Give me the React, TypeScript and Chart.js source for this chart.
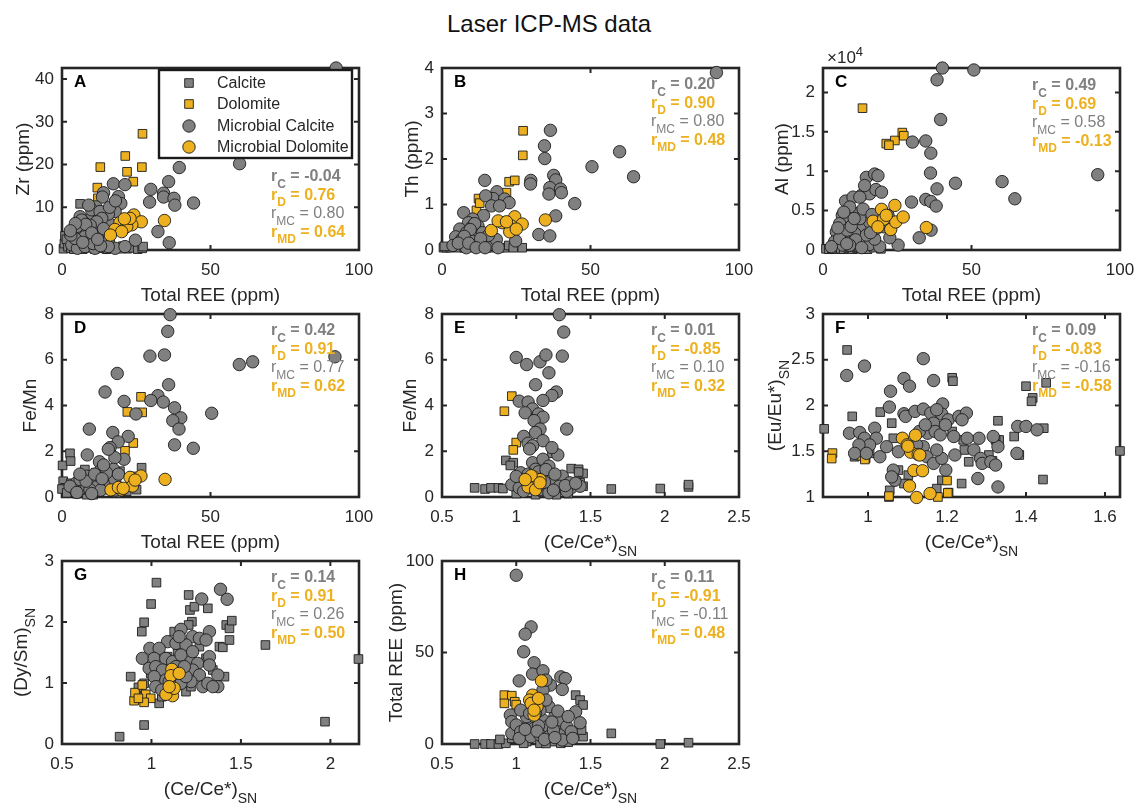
import { useEffect, useRef } from "react";
import { Chart, registerables } from "chart.js";
Chart.register(...registerables);

type P = [number, number];

// ---------------- DATA ----------------
const seriesNames = ["Calcite", "Dolomite", "Microbial Calcite", "Microbial Dolomite"];

// Panel A: Total REE vs Zr
const calciteA: P[] = [[6.1,10.8],[0.5,0.3],[0.8,1.5],[1,3.3],[2,0.8],[1.5,2.5],[3,0.4],[4,1.8],[5,0.3],[7,0.2],[9,0.5],[11,0.2],[13,0.4],[15,0.2],[17,0.6],[19,0.3],[20.5,0.9],[22,0.3],[24,0.5],[25.5,0.2],[27,0.4],[2.5,4],[12,1.0],[16,1.3],[8,1.2],[4,0.2],[27.3,0.8]];
const dolomiteA: P[] = [[27.1,27.2],[12.9,19.4],[21.3,22.0],[21.9,18.3],[26.9,19.4],[24.0,16.0],[11.9,14.6],[12.1,12.1]];
const micCalciteA: P[] = [[92.3,42.6],[59.8,20.2],[39.5,19.3],[35.9,16.0],[29.9,14.2],[34.2,13.3],[29.5,11.2],[34.2,12.4],[37.7,12.1],[38.0,10.5],[44.3,11.0],[32.3,4.3],[36.1,1.7],[24.7,2.3],[17.3,15.5],[21.2,15.3],[14.0,13.4],[13.6,12.4],[19.0,12.5],[19.8,10.9],[17.9,9.0],[11.4,10.1],[10.9,8.2],[8.9,7.0],[7.2,6.6],[8.5,4.7],[6.6,3.9],[11.7,5.5],[12.3,3.9],[8.3,2.3],[4.4,2.4],[3.3,1.2],[5.2,0.4],[7.8,0.8],[11.1,0.4],[15.1,0.6],[15.6,2.3],[21.3,7.0],[20.9,5.1],[15.6,6.4],[15.6,8.4],[17.9,0.4],[6.1,4.7],[9.4,3.1],[6.1,7.8],[12.8,7.8],[10.0,9.4],[12.8,9.0],[13.4,7.4],[6.6,7.0],[11.7,6.6],[5.5,4.7],[7.7,3.1],[4.4,2.7],[15.6,0.8],[21.2,0.8],[9.5,5.8],[10.5,1.5],[13,1.0],[7,1.8],[5,5.5],[8,6],[10,4],[14,5],[3,3.5],[9,10.5],[12,2.5],[16,10],[18,11.5],[4.5,6.2],[2.8,4.5]];
const micDolomiteA: P[] = [[24.2,8.2],[26.7,6.6],[19.5,6.4],[23.5,5.9],[21.8,5.5],[17.8,4.8],[20.1,4.3],[16.3,3.5],[34.5,6.9],[22.9,7.4],[21.0,7.3]];

// Panel B: Total REE vs Th
const calciteB: P[] = [[0.5,0.05],[1.5,0.05],[3,0.05],[4.5,0.1],[6,0.05],[7.5,0.05],[9,0.08],[10.5,0.05],[12,0.05],[13.5,0.1],[15,0.05],[16.5,0.05],[18,0.08],[19.5,0.05],[21,0.05],[22.5,0.1],[24,0.05],[27,0.05],[5,0.2],[11,0.25],[14,0.15],[0.8,0.08]];
const dolomiteB: P[] = [[27.3,2.62],[27.2,2.08],[22.6,1.5],[24.5,1.53],[12.3,1.13],[11.6,0.87],[21.7,1.26],[12.7,1.03]];
const micCalciteB: P[] = [[92.4,3.9],[59.8,2.16],[50.5,1.83],[64.5,1.61],[36.5,2.63],[34.5,2.29],[34.6,2.01],[29.9,1.53],[29.8,1.45],[37.6,1.64],[38.3,1.54],[36.3,1.37],[36.0,1.23],[39.9,1.34],[40.2,1.26],[44.7,1.02],[38.3,0.75],[32.6,0.34],[36.3,0.31],[14.4,1.53],[18.5,1.28],[17.2,1.13],[14.7,1.19],[21.1,1.12],[22.6,1.04],[16.7,0.97],[19.4,0.97],[7.3,0.82],[14.0,0.76],[10.4,0.68],[8.9,0.6],[12.1,0.53],[6.0,0.46],[4.6,0.29],[8.2,0.38],[11.6,0.38],[13.7,0.38],[6.6,0.23],[10.0,0.2],[12.8,0.12],[16.1,0.12],[18.3,0.23],[24.8,0.2],[15.6,0.32],[3.7,0.1],[8.2,0.05],[18.9,0.05],[10,0.5],[11,0.58],[9.5,0.45],[7.5,0.3],[5.5,0.15],[13,0.25],[9,0.15],[11.5,0.05],[14.5,0.05]];
const micDolomiteB: P[] = [[16.6,0.43],[20.3,0.6],[24.5,0.73],[27.0,0.57],[34.8,0.66],[23.3,0.53],[22.8,0.4],[18.9,0.64],[21.7,0.62],[25.0,0.46]];

// Panel C: Total REE vs Al
const calciteC: P[] = [[1,150],[2,100],[3,200],[4,100],[5,300],[6,150],[7,100],[8.5,250],[10,100],[11.5,200],[13,150],[15,100],[17,300],[19.5,150],[9,400],[12,350]];
const dolomiteC: P[] = [[13.3,18000],[21.3,13500],[24.2,13900],[26.7,14900],[27.2,14500],[22.2,13300]];
const micCalciteC: P[] = [[40.2,23100],[50.8,22850],[38.4,21600],[39.6,16560],[30.1,13700],[34.6,13840],[36.3,12290],[36.2,9770],[44.6,8470],[60.3,8680],[92.5,9560],[64.6,6500],[38.4,7760],[34.6,6420],[36.3,6160],[38.1,5580],[29.8,6080],[32.4,1550],[36.4,2520],[25.3,630],[22.5,1550],[14.6,9220],[17.4,9640],[18.5,9430],[12.9,6920],[15.7,7130],[17.8,7670],[19.7,7340],[14.0,8180],[7.6,6210],[10.1,6710],[12.4,6710],[11.5,4610],[9.0,5450],[6.5,4400],[8.4,3980],[5.6,3350],[12.4,2730],[15.7,3560],[20.4,2940],[21.9,4400],[4.5,2310],[7.3,1890],[10.7,2100],[3.9,1050],[6.7,630],[11.2,840],[15.7,710],[19.1,420],[17.4,1380],[5.6,1470],[2.8,420],[8.1,2520],[12.4,3980],[14.6,1890],[18.0,2730],[9.5,3000],[10.5,4000],[7,4800],[13.5,5200],[16.5,4500],[11,1300],[9,600],[13,300],[16,2200],[5,2800],[8,800]];
const micDolomiteC: P[] = [[19.7,5160],[24.2,5660],[16.9,3650],[20.4,3900],[18.5,2940],[22.8,2600],[24.5,3560],[27.0,4190],[34.8,2850],[21.3,4400]];

// Panel D: Total REE vs Fe/Mn
const calciteD: P[] = [[0.2,1.38],[2.7,1.91],[2.9,1.57],[0.4,0.69],[1.0,0.4],[0,0.35],[1.6,0.18],[26.8,1.28],[15,0.32],[19.5,1.13],[12.8,0.62],[4.9,0.15],[8.3,0.1],[10.5,0.1],[18.4,0.18],[21.8,0.25],[25.1,0.32],[7.7,1.2],[24,0.9],[3,0.6],[6,0.3]];
const dolomiteD: P[] = [[26.6,4.38],[22.0,3.72],[27.0,3.7],[24.0,2.36],[21.2,2.02],[11.3,1.06],[10.2,0.92]];
const micCalciteD: P[] = [[36.4,7.97],[35.6,7.24],[29.6,6.16],[34.5,6.21],[59.7,5.79],[64.2,5.91],[91.9,6.13],[18.6,5.4],[14.5,4.59],[35.9,4.91],[32.3,4.43],[29.9,4.22],[34.1,4.15],[20.9,4.18],[24.9,3.63],[37.9,3.9],[40.0,3.46],[37.3,3.34],[39.4,2.97],[37.9,2.28],[44.2,2.13],[50.4,3.66],[9.2,2.97],[17.1,2.82],[22.3,2.65],[18.9,2.41],[16.2,2.16],[20.9,1.65],[8.5,1.84],[12.6,1.54],[17.8,1.72],[15.6,2.09],[17.3,1.21],[12.8,1.13],[8.3,0.91],[4.9,0.62],[10.5,0.76],[15.0,0.76],[7.2,0.4],[11.7,0.44],[16.2,0.47],[4.4,0.32],[9.4,0.32],[17.8,0.76],[15.0,1.06],[6.1,0.76],[2.7,0.47],[8.1,0.69],[13,0.3],[11,1.0],[6,1.0],[14,1.4],[19,1.0],[5,0.2],[10,0.15],[13.5,0.8],[18,0.3]];
const micDolomiteD: P[] = [[22.9,0.86],[26.6,0.92],[23.7,0.48],[16.5,0.31],[20.1,0.31],[34.7,0.77],[24.6,0.74],[19.0,0.42],[20.6,0.38]];

// Panel E: (Ce/Ce*)SN vs Fe/Mn
const calciteE: P[] = [[0.72,0.4],[0.79,0.35],[0.83,0.4],[0.88,0.4],[0.91,0.37],[1.64,0.35],[1.97,0.37],[2.16,0.44],[2.16,0.54],[0.93,1.6],[0.98,1.5],[0.96,1.38],[1.24,1.91],[1.37,1.24],[1.42,1.21],[1.45,1.03],[1.42,1.09],[1.43,0.62],[1.05,0.84],[1.45,0.47],[1.31,0.76],[1.21,0.62],[1.13,0.1],[1.27,0.1],[1.0,0.15],[1.18,0.2],[1.35,0.15]];
const dolomiteE: P[] = [[0.97,4.41],[0.92,3.75],[1.0,2.38],[0.98,2.06]];
const micCalciteE: P[] = [[1.29,7.97],[1.32,7.21],[1.0,6.1],[1.07,5.79],[1.16,5.91],[1.2,6.21],[1.31,6.16],[1.22,5.43],[1.13,4.91],[1.27,4.59],[1.24,4.44],[1.02,4.19],[1.08,4.15],[1.11,3.85],[1.18,4.22],[1.06,3.68],[1.15,3.63],[1.18,3.49],[1.12,3.34],[1.34,2.97],[1.16,2.97],[1.05,2.65],[1.13,2.82],[1.18,2.46],[1.08,2.35],[1.11,2.24],[1.28,1.84],[1.24,2.16],[1.11,1.5],[1.18,1.65],[1.13,1.21],[1.22,1.35],[1.03,1.06],[1.07,0.76],[1.13,0.76],[1.2,0.91],[1.25,0.62],[1.31,0.91],[1.36,0.62],[0.97,0.54],[1.02,0.4],[1.1,0.4],[1.16,0.32],[1.29,0.47],[1.37,0.4],[1.43,0.47],[1.34,0.25],[1.05,0.25],[1.22,0.18],[1.09,2.1],[1.15,1.1],[1.2,1.2],[1.26,1.0],[1.08,1.0],[1.33,0.5],[1.4,0.6],[1.0,0.9],[1.15,0.5],[1.25,0.3],[1.19,0.65]];
const micDolomiteE: P[] = [[1.12,0.87],[1.13,0.54],[1.08,0.44],[1.13,0.32],[1.16,0.76],[1.1,0.93],[1.06,0.76],[1.16,0.62]];

// Panel F: (Ce/Ce*)SN vs (Eu/Eu*)SN
const calciteF: P[] = [[0.947,2.607],[0.889,1.745],[0.96,1.881],[1.031,1.928],[1.06,1.807],[1.213,2.303],[1.215,2.266],[1.4,2.211],[1.417,2.083],[1.414,2.046],[1.451,2.248],[1.445,1.752],[1.329,1.833],[1.37,1.661],[1.383,1.459],[1.638,1.503],[1.443,1.191],[1.237,1.147],[1.187,1.183],[1.204,1.048],[1.174,1.092],[1.055,1.073],[1.053,1.0],[1.102,1.239],[1.077,1.294],[1.255,1.385],[1.244,1.514],[1.241,1.624],[1.306,1.459],[1.315,1.396],[1.332,1.624],[1.213,1.716],[1.064,1.642],[1.004,1.477],[0.994,1.422],[0.966,1.44],[1.323,1.624],[1.091,1.147]];
const dolomiteF: P[] = [[0.91,1.48],[0.908,1.42],[0.983,1.45],[0.992,1.41],[1.053,1.01],[1.177,1.0],[1.202,1.045],[1.2,1.18]];
const micCalciteF: P[] = [[0.946,2.328],[0.991,2.431],[1.14,2.512],[1.091,2.295],[1.105,2.211],[1.166,2.273],[1.057,2.156],[1.054,1.983],[1.189,2.017],[1.187,1.906],[1.091,1.91],[1.095,1.881],[1.119,1.936],[1.14,1.961],[1.159,1.917],[1.174,1.954],[1.203,1.844],[1.23,1.881],[1.249,1.917],[0.953,1.697],[0.979,1.705],[1.017,1.752],[0.991,1.642],[1.021,1.642],[1.004,1.569],[0.977,1.569],[0.966,1.477],[0.996,1.477],[1.03,1.44],[1.047,1.55],[1.077,1.495],[1.064,1.294],[1.068,1.183],[1.06,1.22],[1.166,1.807],[1.151,1.697],[1.17,1.716],[1.183,1.679],[1.14,1.55],[1.149,1.44],[1.166,1.367],[1.187,1.422],[1.197,1.294],[1.174,1.514],[1.13,1.716],[1.145,1.789],[1.123,1.569],[1.281,1.642],[1.268,1.514],[1.285,1.422],[1.289,1.367],[1.311,1.385],[1.323,1.349],[1.329,1.55],[1.317,1.661],[1.379,1.771],[1.4,1.771],[1.428,1.734],[1.377,1.477],[1.278,1.202],[1.329,1.11],[1.196,1.789],[1.22,1.459],[1.238,1.844],[1.251,1.642],[1.217,1.661]];
const micDolomiteF: P[] = [[1.087,1.642],[1.099,1.57],[1.12,1.675],[1.108,1.49],[1.127,1.465],[1.131,1.459],[1.116,1.29],[1.138,1.287],[1.105,1.12],[1.123,0.995],[1.157,1.038],[1.101,1.555]];

// Panel G: (Ce/Ce*)SN vs (Dy/Sm)SN
const calciteG: P[] = [[0.822,0.12],[0.959,0.311],[0.884,1.104],[0.927,0.929],[0.959,0.995],[0.946,1.842],[0.959,1.995],[0.998,2.295],[1.028,2.645],[1.208,2.443],[1.215,2.197],[1.24,2.251],[1.226,2.005],[1.315,2.224],[1.127,1.842],[1.208,1.951],[1.38,1.596],[1.399,1.585],[1.408,1.104],[1.418,1.951],[1.436,1.896],[1.449,2.022],[1.436,1.705],[1.637,1.623],[1.97,0.366],[2.157,1.393],[1.043,0.667],[1.058,0.776],[1.193,0.858],[1.221,0.94],[1.305,1.404],[1.268,1.596],[1.146,1.486],[1.174,1.268],[1.268,1.104],[1.343,1.213],[0.921,0.776],[0.996,1.158],[1.09,1.432]];
const dolomiteG: P[] = [[0.903,0.71],[0.908,0.842],[0.949,0.967],[0.968,0.814],[0.996,0.749],[0.959,0.683],[0.927,0.749]];
const micCalciteG: P[] = [[1.386,2.536],[1.423,2.372],[1.281,2.377],[1.324,1.842],[1.165,1.88],[1.23,1.76],[1.268,1.732],[1.305,1.705],[1.09,1.678],[1.137,1.65],[1.193,1.623],[0.991,1.568],[1.043,1.568],[0.949,1.404],[1.015,1.404],[1.08,1.404],[1.118,1.35],[1.165,1.459],[1.221,1.35],[1.258,1.322],[1.324,1.432],[1.324,1.295],[0.987,1.24],[1.024,1.268],[1.062,1.213],[1.23,1.213],[1.268,1.131],[1.287,0.94],[1.315,0.995],[1.371,1.131],[1.371,0.94],[1.343,0.94],[1.221,1.022],[1.165,0.995],[1.08,1.049],[1.015,1.104],[1.024,0.94],[1.058,0.885],[1.099,1.022],[1.193,1.104],[1.137,1.268],[1.184,1.268],[1.23,1.514],[1.155,1.76]];
const micDolomiteG: P[] = [[1.114,1.224],[1.109,1.12],[1.155,1.158],[1.118,0.792],[1.081,0.814],[1.127,0.913],[1.099,0.94]];

// Panel H: (Ce/Ce*)SN vs Total REE
const calciteH: P[] = [[0.72,0],[0.79,0],[0.83,0],[0.88,0],[0.93,0.4],[1.64,5.8],[1.97,0],[2.16,0.7],[1.4,26.7],[1.43,24.0],[1.45,21.3],[1.45,4.0],[1.44,7.6],[1.43,11.3],[0.97,3.1],[1.07,1.3],[1.16,0.4],[1.25,1.3],[1.3,0.4],[0.89,2.5],[1.05,0.4],[1.2,0.3],[1.35,1.0]];
const dolomiteH: P[] = [[0.92,26.7],[0.97,26.4],[0.92,22.2],[0.99,23.1],[1.0,21.5]];
const micCalciteH: P[] = [[1.0,92.2],[1.1,64.0],[1.06,60.0],[1.05,50.4],[1.12,44.4],[1.02,34.5],[1.11,38.2],[1.18,40.0],[1.3,36.7],[1.33,35.8],[1.31,29.8],[1.23,32.2],[1.18,29.5],[1.2,34.9],[0.96,15.8],[0.97,12.2],[0.97,5.8],[1.0,10.4],[1.03,6.7],[1.08,10.4],[1.11,13.1],[1.12,8.5],[1.18,13.1],[1.21,9.5],[1.26,14.9],[1.27,9.5],[1.3,13.1],[1.34,9.5],[1.37,6.7],[1.4,17.6],[1.43,11.6],[1.22,20.4],[1.16,18.5],[1.2,24.0],[1.1,4.0],[1.16,4.9],[1.22,4.0],[1.29,4.9],[1.07,14.9],[1.13,16.7],[1.03,18.5],[1.25,7.6],[1.02,3.1],[1.09,16.7],[1.31,2.2],[1.38,3.1],[1.15,10.0],[1.24,12.0],[1.06,8.0],[1.28,18.0],[1.35,15.0],[1.14,7.0],[1.19,2.5],[1.26,3.5]];
const micDolomiteH: P[] = [[1.17,34.5],[1.11,26.7],[1.09,24.0],[1.14,20.4],[1.12,15.8],[1.1,22.2],[1.15,24.9],[1.12,18.5]];

// Correlation coefficients (rC, rD, rMC, rMD)
const rA = [-0.04, 0.76, 0.8, 0.64];
const rB = [0.2, 0.9, 0.8, 0.48];
const rC = [0.49, 0.69, 0.58, -0.13];
const rD = [0.42, 0.91, 0.77, 0.62];
const rE = [0.01, -0.85, 0.1, 0.32];
const rF = [0.09, -0.83, -0.16, -0.58];
const rG = [0.14, 0.91, 0.26, 0.5];
const rH = [0.11, -0.91, -0.11, 0.48];

// Tick values
const reeTicks = [0, 50, 100];
const ceTicks = [0.5, 1, 1.5, 2, 2.5];
const ceTicksF = [1, 1.2, 1.4, 1.6];
const ceTicksG = [0.5, 1, 1.5, 2];
const zrTicks = [0, 10, 20, 30, 40];
const thTicks = [0, 1, 2, 3, 4];
const alTicks = [0, 5000, 10000, 15000, 20000];
const feMnTicks = [0, 2, 4, 6, 8];
const euTicks = [1, 1.5, 2, 2.5, 3];
const dyTicks = [0, 1, 2, 3];
const reeYTicks = [0, 50, 100];

// ---------------- STYLE ----------------
const FONT = '"Liberation Sans", Arial, Helvetica, sans-serif';
const AX = "#262626";
const GRAY = "#808080";
const GOLD = "#EDB120";
const EDGE = "#1c1c1c";
const PAD_L = 70, PAD_R = 30, PAD_T = 32, PAD_B = 62;
const CIRCLE_R = 6.2;
const SQUARE_R = 6.1;

interface Seg { t: string; sub?: boolean; sup?: boolean }

interface PanelCfg {
  letter: string;
  left: number; top: number; w: number; h: number;
  xMin: number; xMax: number; yMin: number; yMax: number;
  xTicks: number[]; yTicks: number[];
  yFmt?: (v: number) => string;
  xLabel: Seg[]; yLabel: Seg[]; yLabelOff: number;
  series: P[][]; r: number[]; rTop: number;
  legend?: boolean; exp?: boolean;
}

const totalREE: Seg[] = [{ t: "Total REE (ppm)" }];
const ceLabel: Seg[] = [{ t: "(Ce/Ce*)" }, { t: "SN", sub: true }];

const COLS = [62, 442, 823];
const W = 297;
const ROWS = [{ t: 68, h: 182 }, { t: 314, h: 183 }, { t: 561, h: 183 }];

const panels: PanelCfg[] = [
  { letter: "A", left: COLS[0], top: ROWS[0].t, w: W, h: ROWS[0].h, xMin: 0, xMax: 100, yMin: 0, yMax: 42.6, xTicks: reeTicks, yTicks: zrTicks, xLabel: totalREE, yLabel: [{ t: "Zr (ppm)" }], yLabelOff: 33, series: [calciteA, dolomiteA, micCalciteA, micDolomiteA], r: rA, rTop: 113, legend: true },
  { letter: "B", left: COLS[1], top: ROWS[0].t, w: W, h: ROWS[0].h, xMin: 0, xMax: 100, yMin: 0, yMax: 4, xTicks: reeTicks, yTicks: thTicks, xLabel: totalREE, yLabel: [{ t: "Th (ppm)" }], yLabelOff: 24, series: [calciteB, dolomiteB, micCalciteB, micDolomiteB], r: rB, rTop: 21 },
  { letter: "C", left: COLS[2], top: ROWS[0].t, w: W, h: ROWS[0].h, xMin: 0, xMax: 100, yMin: 0, yMax: 23100, xTicks: reeTicks, yTicks: alTicks, yFmt: (v) => String(v / 10000), xLabel: totalREE, yLabel: [{ t: "Al (ppm)" }], yLabelOff: 35, series: [calciteC, dolomiteC, micCalciteC, micDolomiteC], r: rC, rTop: 22, exp: true },
  { letter: "D", left: COLS[0], top: ROWS[1].t, w: W, h: ROWS[1].h, xMin: 0, xMax: 100, yMin: 0, yMax: 8, xTicks: reeTicks, yTicks: feMnTicks, xLabel: totalREE, yLabel: [{ t: "Fe/Mn" }], yLabelOff: 26, series: [calciteD, dolomiteD, micCalciteD, micDolomiteD], r: rD, rTop: 21 },
  { letter: "E", left: COLS[1], top: ROWS[1].t, w: W, h: ROWS[1].h, xMin: 0.5, xMax: 2.5, yMin: 0, yMax: 8, xTicks: ceTicks, yTicks: feMnTicks, xLabel: ceLabel, yLabel: [{ t: "Fe/Mn" }], yLabelOff: 26, series: [calciteE, dolomiteE, micCalciteE, micDolomiteE], r: rE, rTop: 21 },
  { letter: "F", left: COLS[2], top: ROWS[1].t, w: W, h: ROWS[1].h, xMin: 0.886, xMax: 1.638, yMin: 1, yMax: 3, xTicks: ceTicksF, yTicks: euTicks, xLabel: ceLabel, yLabel: [{ t: "(Eu/Eu*)" }, { t: "SN", sub: true }], yLabelOff: 42, series: [calciteF, dolomiteF, micCalciteF, micDolomiteF], r: rF, rTop: 21 },
  { letter: "G", left: COLS[0], top: ROWS[2].t, w: W, h: ROWS[2].h, xMin: 0.5, xMax: 2.16, yMin: 0, yMax: 3, xTicks: ceTicksG, yTicks: dyTicks, xLabel: ceLabel, yLabel: [{ t: "(Dy/Sm)" }, { t: "SN", sub: true }], yLabelOff: 35, series: [calciteG, dolomiteG, micCalciteG, micDolomiteG], r: rG, rTop: 21 },
  { letter: "H", left: COLS[1], top: ROWS[2].t, w: W, h: ROWS[2].h, xMin: 0.5, xMax: 2.5, yMin: 0, yMax: 100, xTicks: ceTicks, yTicks: reeYTicks, xLabel: ceLabel, yLabel: [{ t: "Total REE (ppm)" }], yLabelOff: 40, series: [calciteH, dolomiteH, micCalciteH, micDolomiteH], r: rH, rTop: 21 },
];

// ---------------- DRAW HELPERS ----------------
function richWidth(ctx: CanvasRenderingContext2D, segs: Seg[], size: number, bold: boolean) {
  let total = 0;
  for (const s of segs) {
    ctx.font = `${bold ? "bold " : ""}${s.sub || s.sup ? Math.round(size * 0.74) : size}px ${FONT}`;
    total += ctx.measureText(s.t).width;
  }
  return total;
}

function drawRich(ctx: CanvasRenderingContext2D, segs: Seg[], x: number, y: number, size: number, color: string, bold: boolean, align: "left" | "center") {
  const total = richWidth(ctx, segs, size, bold);
  let cx = align === "center" ? x - total / 2 : x;
  ctx.fillStyle = color;
  ctx.textAlign = "left";
  ctx.textBaseline = "alphabetic";
  for (const s of segs) {
    ctx.font = `${bold ? "bold " : ""}${s.sub || s.sup ? Math.round(size * 0.74) : size}px ${FONT}`;
    const dy = s.sub ? size * 0.42 : s.sup ? -size * 0.42 : 0;
    ctx.fillText(s.t, cx, y + dy);
    cx += ctx.measureText(s.t).width;
  }
}

function drawMarker(ctx: CanvasRenderingContext2D, x: number, y: number, square: boolean, fill: string) {
  ctx.beginPath();
  const hs = SQUARE_R * Math.SQRT1_2;
  if (square) ctx.rect(x - hs, y - hs, 2 * hs, 2 * hs);
  else ctx.arc(x, y, CIRCLE_R, 0, Math.PI * 2);
  ctx.fillStyle = fill;
  ctx.fill();
  ctx.lineWidth = 0.9;
  ctx.strokeStyle = EDGE;
  ctx.stroke();
}

function makePlugin(cfg: PanelCfg) {
  return {
    id: "panel" + cfg.letter,
    beforeDatasetsDraw(chart: any) {
      const ctx: CanvasRenderingContext2D = chart.ctx;
      const a = chart.chartArea;
      const xs = chart.scales.x, ys = chart.scales.y;
      ctx.save();
      ctx.fillStyle = "#ffffff";
      ctx.fillRect(a.left, a.top, a.right - a.left, a.bottom - a.top);
      ctx.strokeStyle = AX;
      ctx.lineWidth = 2;
      const tl = 5;
      for (const v of cfg.xTicks) {
        const px = xs.getPixelForValue(v);
        ctx.beginPath();
        ctx.moveTo(px, a.bottom); ctx.lineTo(px, a.bottom - tl);
        ctx.moveTo(px, a.top); ctx.lineTo(px, a.top + tl);
        ctx.stroke();
      }
      for (const v of cfg.yTicks) {
        const py = ys.getPixelForValue(v);
        ctx.beginPath();
        ctx.moveTo(a.left, py); ctx.lineTo(a.left + tl, py);
        ctx.moveTo(a.right, py); ctx.lineTo(a.right - tl, py);
        ctx.stroke();
      }
      ctx.lineWidth = 2.6;
      ctx.strokeRect(a.left, a.top, a.right - a.left, a.bottom - a.top);
      ctx.restore();
    },
    afterDatasetsDraw(chart: any) {
      const ctx: CanvasRenderingContext2D = chart.ctx;
      const a = chart.chartArea;
      ctx.save();
      // panel letter
      ctx.font = `bold 17px ${FONT}`;
      ctx.fillStyle = "#000";
      ctx.textAlign = "left";
      ctx.textBaseline = "alphabetic";
      ctx.fillText(cfg.letter, a.left + 12, a.top + 19);
      // r annotations
      const subs = ["C", "D", "MC", "MD"];
      cfg.r.forEach((v, i) => {
        const color = i % 2 === 0 ? GRAY : GOLD;
        const bold = i !== 2;
        drawRich(ctx, [{ t: "r" }, { t: subs[i], sub: true }, { t: " = " + v.toFixed(2) }], a.left + 209, a.top + cfg.rTop + i * 18.5, 16, color, bold, "left");
      });
      // legend
      if (cfg.legend) {
        const lx = a.left + 97, ly = a.top + 2, lw = 193, lh = 88;
        ctx.fillStyle = "#fff";
        ctx.fillRect(lx, ly, lw, lh);
        ctx.lineWidth = 2.4;
        ctx.strokeStyle = "#1a1a1a";
        ctx.strokeRect(lx, ly, lw, lh);
        const rows = [15, 36, 58, 79];
        seriesNames.forEach((name, i) => {
          const my = a.top + rows[i];
          drawMarker(ctx, a.left + 127, my, i < 2, i % 2 === 0 ? GRAY : GOLD);
          ctx.font = `16px ${FONT}`;
          ctx.fillStyle = AX;
          ctx.textAlign = "left";
          ctx.textBaseline = "middle";
          ctx.fillText(name, a.left + 155, my + 1);
        });
      }
      // exponent label
      if (cfg.exp) {
        drawRich(ctx, [{ t: "\u00d710" }, { t: "4", sup: true }], a.left + 4, a.top - 5, 17, AX, false, "left");
      }
      // x label
      drawRich(ctx, cfg.xLabel, (a.left + a.right) / 2, a.bottom + 51, 19, AX, false, "center");
      // y label (rotated)
      ctx.save();
      ctx.translate(a.left - cfg.yLabelOff, (a.top + a.bottom) / 2);
      ctx.rotate(-Math.PI / 2);
      drawRich(ctx, cfg.yLabel, 0, 0, 19, AX, false, "center");
      ctx.restore();
      ctx.restore();
    },
  };
}

function Panel({ cfg }: { cfg: PanelCfg }) {
  const ref = useRef<HTMLCanvasElement | null>(null);
  useEffect(() => {
    if (!ref.current) return;
    const fmt = (v: number) => (cfg.yFmt ? cfg.yFmt(v) : String(v));
    const chart = new Chart(ref.current, {
      type: "scatter",
      data: {
        datasets: cfg.series.map((s, i) => ({
          label: seriesNames[i],
          data: s.map(([x, y]) => ({ x, y })),
          pointStyle: i < 2 ? "rect" : "circle",
          pointRadius: i < 2 ? SQUARE_R : CIRCLE_R,
          pointHoverRadius: i < 2 ? SQUARE_R : CIRCLE_R,
          backgroundColor: i % 2 === 0 ? GRAY : GOLD,
          borderColor: EDGE,
          borderWidth: 0.9,
          order: 3 - i,
          clip: false as any,
        })),
      },
      options: {
        responsive: false,
        animation: false,
        events: [],
        layout: { padding: { top: PAD_T, right: PAD_R, left: 0, bottom: 0 } },
        plugins: { legend: { display: false }, tooltip: { enabled: false }, title: { display: false } },
        scales: {
          x: {
            type: "linear",
            position: "bottom",
            min: cfg.xMin,
            max: cfg.xMax,
            grid: { display: false, drawTicks: false },
            border: { display: false },
            ticks: { font: { family: FONT, size: 17 }, color: AX, padding: 10, autoSkip: false, maxRotation: 0, callback: (v: any) => String(v) },
            afterBuildTicks: (s: any) => { s.ticks = cfg.xTicks.map((v) => ({ value: v })); },
            afterFit: (s: any) => { s.height = PAD_B; },
          },
          y: {
            type: "linear",
            position: "left",
            min: cfg.yMin,
            max: cfg.yMax,
            grid: { display: false, drawTicks: false },
            border: { display: false },
            ticks: { font: { family: FONT, size: 17 }, color: AX, padding: 8, autoSkip: false, callback: (v: any) => fmt(Number(v)) },
            afterBuildTicks: (s: any) => { s.ticks = cfg.yTicks.map((v) => ({ value: v })); },
            afterFit: (s: any) => { s.width = PAD_L; },
          },
        },
      } as any,
      plugins: [makePlugin(cfg)],
    });
    return () => chart.destroy();
  }, [cfg]);
  const cw = PAD_L + cfg.w + PAD_R;
  const ch = PAD_T + cfg.h + PAD_B;
  return (
    <canvas
      ref={ref}
      width={cw}
      height={ch}
      style={{ position: "absolute", left: cfg.left - PAD_L, top: cfg.top - PAD_T, width: cw, height: ch }}
    />
  );
}

export default function App() {
  return (
    <div style={{ position: "fixed", left: 0, top: 0, width: 1137, height: 805, background: "#ffffff", overflow: "hidden", fontFamily: FONT }}>
      <div style={{ position: "absolute", left: 349, width: 400, top: 9, textAlign: "center", fontSize: 24, lineHeight: "30px", color: "#111" }}>
        Laser ICP-MS data
      </div>
      {panels.map((p) => (
        <Panel key={p.letter} cfg={p} />
      ))}
    </div>
  );
}
